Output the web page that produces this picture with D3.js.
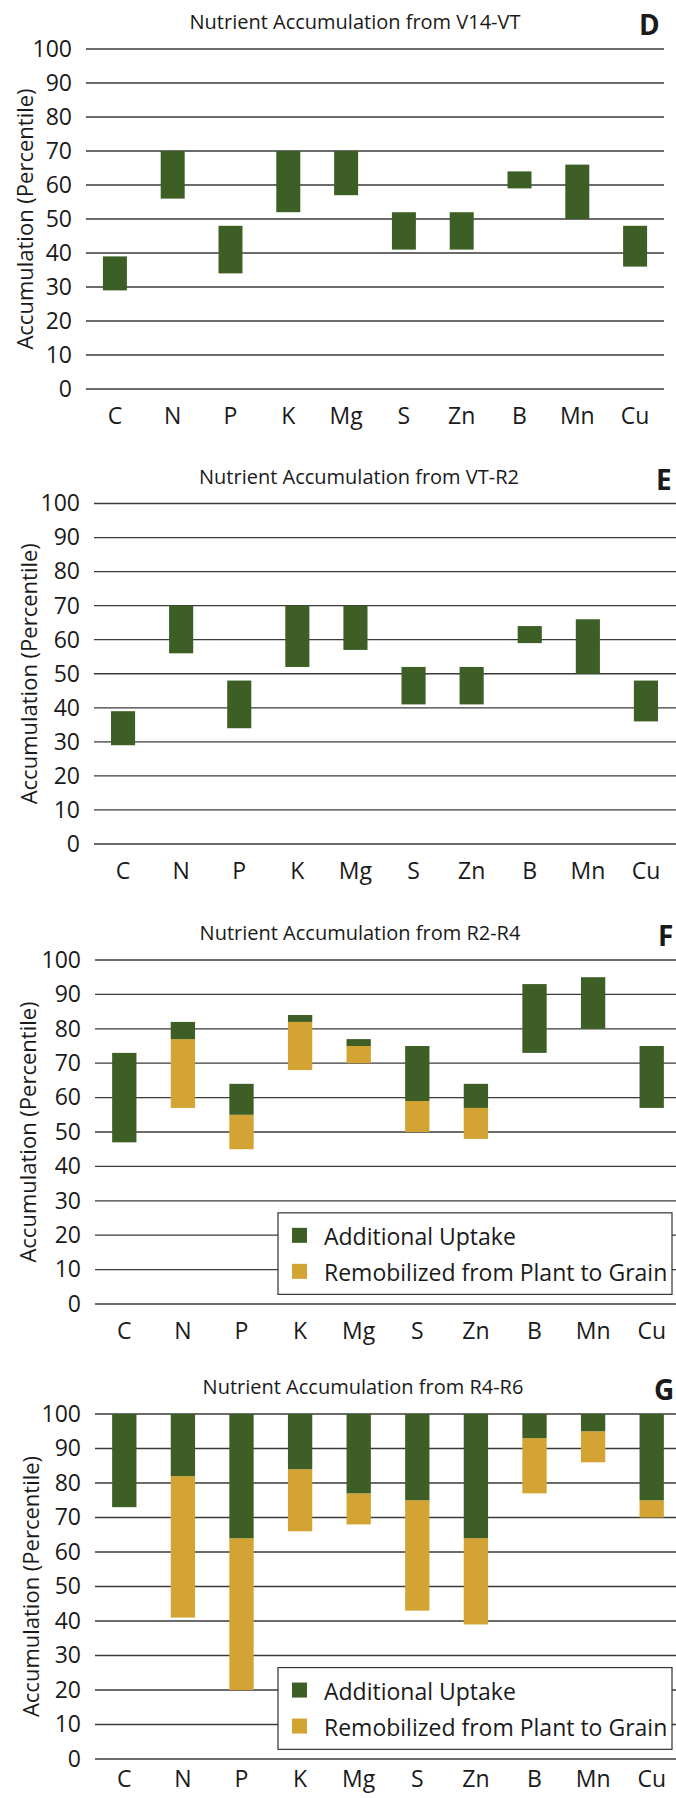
<!DOCTYPE html>
<html><head><meta charset="utf-8">
<script src="https://cdn.jsdelivr.net/npm/d3@7"></script>
<style>
html,body{margin:0;padding:0;background:#fff;}
svg text{font-family:"Open Sans","Lato",sans-serif;fill:#1a1a1a;}
</style></head>
<body><svg id="c" width="676" height="1798"></svg>
<script>
const categories = ["C","N","P","K","Mg","S","Zn","B","Mn","Cu"];
const yTicks = [0,10,20,30,40,50,60,70,80,90,100];
const seriesNames = ["Additional Uptake","Remobilized from Plant to Grain"];
const titles = ["Nutrient Accumulation from V14-VT","Nutrient Accumulation from VT-R2","Nutrient Accumulation from R2-R4","Nutrient Accumulation from R4-R6"];
const letters = ["D","E","F","G"];

// bottom of remobilized part, split (remobilized top / uptake bottom), top of uptake
const dBottom = [29,56,34,52,57,41,41,59,50,36];
const dSplit  = [29,56,34,52,57,41,41,59,50,36];
const dTop    = [39,70,48,70,70,52,52,64,66,48];
const eBottom = [29,56,34,52,57,41,41,59,50,36];
const eSplit  = [29,56,34,52,57,41,41,59,50,36];
const eTop    = [39,70,48,70,70,52,52,64,66,48];
const fBottom = [47,57,45,68,70,50,48,73,80,57];
const fSplit  = [47,77,55,82,75,59,57,73,80,57];
const fTop    = [73,82,64,84,77,75,64,93,95,75];
const gBottom = [73,41,20,66,68,43,39,77,86,70];
const gSplit  = [73,82,64,84,77,75,64,93,95,75];
const gTop    = [100,100,100,100,100,100,100,100,100,100];

const GREEN = "#3d5f25", GOLD = "#d3a433";

const panels = [
  {bottom:dBottom, split:dSplit, top:dTop, y0:389, y1:49, x0:86, x1:664, gx1:664, legend:false, ytx:24, lx:639, tx:355, xpad:19},
  {bottom:eBottom, split:eSplit, top:eTop, y0:844, y1:503.5, x0:94, x1:675, gx1:676, legend:false, ytx:28, lx:656, tx:359, xpad:19},
  {bottom:fBottom, split:fSplit, top:fTop, y0:1304, y1:960, x0:95, x1:681, gx1:676, legend:true, ytx:27, lx:658, tx:360, xpad:19},
  {bottom:gBottom, split:gSplit, top:gTop, y0:1759, y1:1414, x0:95, x1:681, gx1:676, legend:true, ytx:30, lx:654, tx:363, xpad:12}
];

const svg = d3.select("#c");

panels.forEach((p, i) => {
  const g = svg.append("g");
  const y = d3.scaleLinear().domain([0,100]).range([p.y0, p.y1]);
  const x = d3.scaleBand().domain(categories).range([p.x0, p.x1]).padding(0);
  const bw = x.bandwidth() * 0.415;

  // gridlines
  g.append("g").selectAll("line").data(yTicks).join("line")
    .attr("x1", p.x0).attr("x2", p.gx1)
    .attr("y1", d => y(d)).attr("y2", d => y(d))
    .attr("stroke", "#3a3a3a").attr("stroke-width", 1.3);

  // y axis labels
  const ya = d3.axisLeft(y).tickValues(yTicks).tickSize(0).tickPadding(14);
  const yg = g.append("g").attr("transform", `translate(${p.x0},0)`).call(ya);
  yg.select(".domain").remove();
  yg.selectAll("text").attr("font-size", 23).attr("font-family", "Open Sans").attr("fill", "#1a1a1a");

  // x axis labels
  const xa = d3.axisBottom(x).tickSize(0).tickPadding(p.xpad);
  const xg = g.append("g").attr("transform", `translate(0,${p.y0})`).call(xa);
  xg.select(".domain").remove();
  xg.selectAll("text").attr("font-size", 23).attr("font-family", "Open Sans").attr("fill", "#1a1a1a");

  // bars: remobilized (gold)
  g.append("g").selectAll("rect").data(categories).join("rect")
    .attr("x", c => x(c) + (x.bandwidth() - bw) / 2)
    .attr("width", bw)
    .attr("y", (c, k) => y(p.split[k]))
    .attr("height", (c, k) => y(p.bottom[k]) - y(p.split[k]))
    .attr("fill", GOLD);
  // bars: additional uptake (green)
  g.append("g").selectAll("rect").data(categories).join("rect")
    .attr("x", c => x(c) + (x.bandwidth() - bw) / 2)
    .attr("width", bw)
    .attr("y", (c, k) => y(p.top[k]))
    .attr("height", (c, k) => y(p.split[k]) - y(p.top[k]))
    .attr("fill", GREEN);

  // title
  g.append("text").attr("x", p.tx).attr("y", p.y1 - 20)
    .attr("text-anchor", "middle").attr("font-size", 20).text(titles[i]);
  // panel letter
  g.append("text").attr("x", p.lx).attr("y", p.y1 - 14)
    .attr("font-size", 28).attr("font-weight", "bold").text(letters[i]);
  // y title
  g.append("text")
    .attr("transform", `translate(${p.ytx},${(p.y0 + p.y1) / 2}) rotate(-90)`)
    .attr("text-anchor", "middle").attr("dominant-baseline", "central")
    .attr("font-size", 22).text("Accumulation (Percentile)");

  if (p.legend) {
    const lx = p.x0 + 183, lw = 394;
    const ly = y(26.5), lh = y(2.8) - y(26.5);
    const lg = g.append("g");
    lg.append("rect").attr("x", lx).attr("y", ly).attr("width", lw).attr("height", lh)
      .attr("fill", "#fff").attr("stroke", "#333").attr("stroke-width", 1.2);
    const rows = [{name: seriesNames[0], color: GREEN}, {name: seriesNames[1], color: GOLD}];
    lg.selectAll("g.row").data(rows).join("g").attr("class", "row")
      .attr("transform", (d, k) => `translate(${lx + 14},${ly + 23 + k * 36})`)
      .each(function(d) {
        const r = d3.select(this);
        r.append("rect").attr("x", 0).attr("y", -8).attr("width", 15).attr("height", 15).attr("fill", d.color);
        r.append("text").attr("x", 32).attr("y", 0).attr("dominant-baseline", "central")
          .attr("font-size", 23).text(d.name);
      });
  }
});
</script></body></html>
